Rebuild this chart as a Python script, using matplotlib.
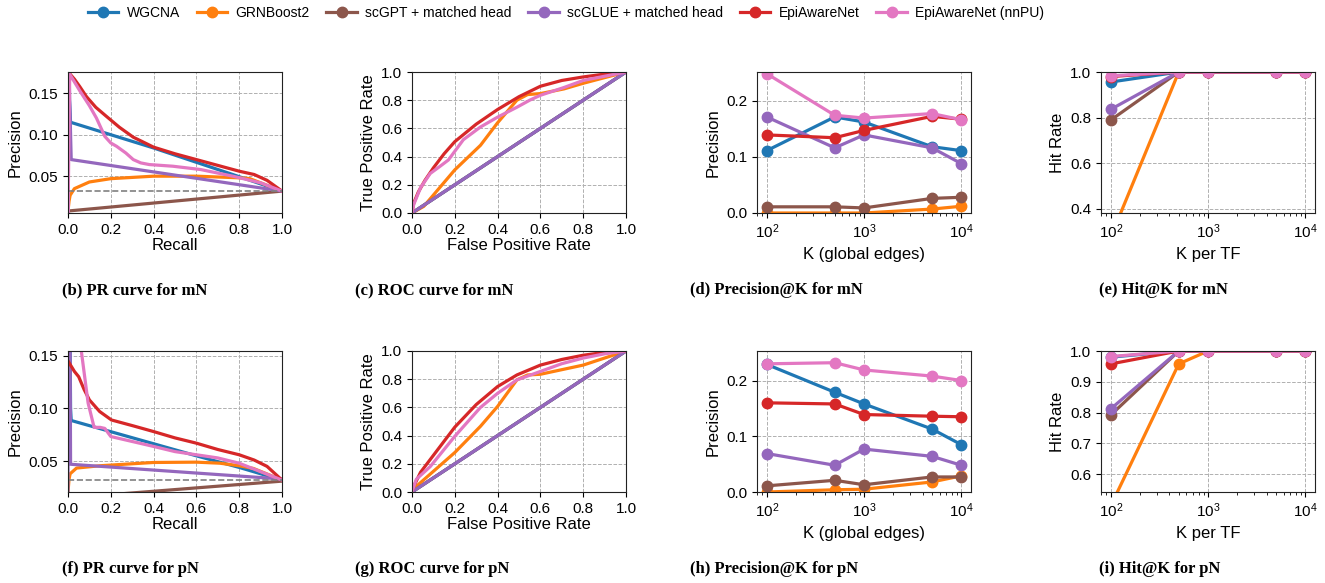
import numpy as np
import matplotlib
matplotlib.use("Agg")
from matplotlib import pyplot as plt

plt.rcParams['font.family'] = ['Liberation Sans', 'DejaVu Sans']

methods = ["WGCNA", "GRNBoost2", "scGPT + matched head", "scGLUE + matched head",
           "EpiAwareNet", "EpiAwareNet (nnPU)"]
colors = ["tab:blue", "tab:orange", "tab:brown", "tab:purple", "tab:red", "tab:pink"]

# ---- PR curves (recall, precision) ----
pr_mN = {
    "WGCNA": ([0.0, 0.012, 0.4, 0.77, 1.0], [0.175, 0.115, 0.084, 0.052, 0.032]),
    "GRNBoost2": ([0.0, 0.0, 0.005, 0.01, 0.03, 0.1, 0.2, 0.4, 0.6, 0.8, 0.85, 1.0],
                  [1.0, 0.008, 0.02, 0.027, 0.035, 0.043, 0.047, 0.050, 0.050, 0.048, 0.047, 0.032]),
    "scGPT + matched head": ([0.0, 1.0], [0.008, 0.032]),
    "scGLUE + matched head": ([0.005, 0.013, 0.015, 1.0], [0.176, 0.09, 0.07, 0.032]),
    "EpiAwareNet": ([0.0, 0.003, 0.03, 0.055, 0.086, 0.13, 0.18, 0.24, 0.305, 0.4, 0.5, 0.6, 0.7, 0.8, 0.87, 0.93, 1.0],
                    [1.0, 0.175, 0.167, 0.158, 0.146, 0.133, 0.122, 0.109, 0.097, 0.085, 0.077, 0.070, 0.063, 0.056, 0.052, 0.045, 0.032]),
    "EpiAwareNet (nnPU)": ([0.0, 0.0, 0.008, 0.055, 0.1, 0.133, 0.172, 0.2, 0.227, 0.27, 0.305, 0.34, 0.38, 0.49, 0.62, 0.77, 0.9, 1.0],
                           [1.0, 0.0, 0.173, 0.153, 0.135, 0.120, 0.098, 0.090, 0.086, 0.078, 0.070, 0.066, 0.064, 0.062, 0.058, 0.050, 0.042, 0.032]),
}
pr_pN = {
    "WGCNA": ([0.01, 0.012, 0.015, 0.6, 0.8, 1.0], [0.16, 0.10, 0.0885, 0.055, 0.044, 0.032]),
    "GRNBoost2": ([0.0, 0.005, 0.01, 0.04, 0.15, 0.4, 0.6, 0.71, 0.8, 0.867, 1.0],
                  [0.021, 0.033, 0.038, 0.0434, 0.0456, 0.0487, 0.049, 0.048, 0.0456, 0.043, 0.032]),
    "scGPT + matched head": ([0.0, 1.0], [0.015, 0.031]),
    "scGLUE + matched head": ([0.0, 0.0, 0.01, 0.012, 1.0], [0.02, 0.16, 0.16, 0.047, 0.033]),
    "EpiAwareNet": ([0.003, 0.015, 0.03, 0.05, 0.075, 0.1, 0.148, 0.203, 0.305, 0.4, 0.5, 0.6, 0.7, 0.8, 0.87, 0.93, 1.0],
                    [0.144, 0.140, 0.135, 0.130, 0.118, 0.108, 0.097, 0.089, 0.0834, 0.078, 0.072, 0.067, 0.061, 0.056, 0.051, 0.045, 0.032]),
    "EpiAwareNet (nnPU)": ([0.05, 0.0625, 0.094, 0.122, 0.15, 0.172, 0.2, 0.3, 0.4, 0.5, 0.6, 0.7, 0.8, 0.9, 1.0],
                           [0.19, 0.154, 0.105, 0.082, 0.082, 0.081, 0.0733, 0.0686, 0.0639, 0.059, 0.056, 0.053, 0.048, 0.040, 0.032]),
}
prevalence_mN = 0.0316
prevalence_pN = 0.0317

# ---- ROC curves (fpr, tpr) ----
roc_mN = {
    "WGCNA": ([0.0, 1.0], [0.0, 1.0]),
    "GRNBoost2": ([0.0, 0.055, 0.2, 0.32, 0.4, 0.49, 0.54, 0.6, 0.71, 0.8, 1.0],
                  [0.0, 0.047, 0.306, 0.48, 0.64, 0.80, 0.84, 0.847, 0.88, 0.92, 1.0]),
    "scGPT + matched head": ([0.0, 1.0], [0.0, 1.0]),
    "scGLUE + matched head": ([0.0, 1.0], [0.0, 1.0]),
    "EpiAwareNet": ([0.0, 0.008, 0.03, 0.06, 0.1, 0.15, 0.2, 0.3, 0.4, 0.5, 0.6, 0.7, 0.8, 0.9, 1.0],
                    [0.0, 0.07, 0.15, 0.23, 0.32, 0.42, 0.506, 0.63, 0.734, 0.825, 0.899, 0.94, 0.965, 0.985, 1.0]),
    "EpiAwareNet (nnPU)": ([0.0, 0.008, 0.04, 0.085, 0.13, 0.17, 0.24, 0.32, 0.4, 0.49, 0.55, 0.6, 0.71, 0.8, 1.0],
                           [0.0, 0.06, 0.18, 0.28, 0.33, 0.376, 0.52, 0.61, 0.68, 0.75, 0.80, 0.835, 0.89, 0.94, 1.0]),
}
roc_pN = {
    "WGCNA": ([0.0, 1.0], [0.0, 1.0]),
    "GRNBoost2": ([0.0, 0.02, 0.2, 0.32, 0.4, 0.49, 0.54, 0.6, 0.8, 1.0],
                  [0.0, 0.04, 0.28, 0.466, 0.607, 0.795, 0.83, 0.835, 0.90, 1.0]),
    "scGPT + matched head": ([0.0, 1.0], [0.0, 1.0]),
    "scGLUE + matched head": ([0.0, 1.0], [0.0, 1.0]),
    "EpiAwareNet": ([0.0, 0.008, 0.04, 0.085, 0.13, 0.2, 0.3, 0.4, 0.49, 0.6, 0.7, 0.8, 0.9, 1.0],
                    [0.0, 0.04, 0.14, 0.23, 0.32, 0.46, 0.62, 0.748, 0.83, 0.9, 0.94, 0.97, 0.99, 1.0]),
    "EpiAwareNet (nnPU)": ([0.0, 0.02, 0.085, 0.2, 0.32, 0.4, 0.49, 0.6, 0.7, 0.8, 0.9, 1.0],
                           [0.0, 0.09, 0.18, 0.395, 0.6, 0.70, 0.795, 0.855, 0.91, 0.95, 0.98, 1.0]),
}

# ---- Precision@K (global edges) ----
k_global = [100, 500, 1000, 5000, 10000]
prec_k_mN = {
    "WGCNA": [0.111, 0.171, 0.162, 0.118, 0.111],
    "GRNBoost2": [0.0, 0.0, 0.0, 0.007, 0.012],
    "scGPT + matched head": [0.011, 0.011, 0.009, 0.026, 0.028],
    "scGLUE + matched head": [0.171, 0.116, 0.139, 0.116, 0.088],
    "EpiAwareNet": [0.139, 0.134, 0.147, 0.172, 0.167],
    "EpiAwareNet (nnPU)": [0.248, 0.174, 0.169, 0.177, 0.166],
}
prec_k_pN = {
    "WGCNA": [0.229, 0.179, 0.158, 0.113, 0.085],
    "GRNBoost2": [0.0, 0.004, 0.005, 0.018, 0.029],
    "scGPT + matched head": [0.011, 0.021, 0.013, 0.027, 0.027],
    "scGLUE + matched head": [0.069, 0.048, 0.077, 0.064, 0.048],
    "EpiAwareNet": [0.160, 0.158, 0.139, 0.136, 0.135],
    "EpiAwareNet (nnPU)": [0.230, 0.232, 0.219, 0.208, 0.200],
}

# ---- Hit@K (per TF) ----
k_tf = [100, 500, 1000, 5000, 10000]
hit_k_mN = {
    "WGCNA": [0.956, 1.0, 1.0, 1.0, 1.0],
    "GRNBoost2": [0.275, 1.0, 1.0, 1.0, 1.0],
    "scGPT + matched head": [0.789, 1.0, 1.0, 1.0, 1.0],
    "scGLUE + matched head": [0.836, 1.0, 1.0, 1.0, 1.0],
    "EpiAwareNet": [0.98, 1.0, 1.0, 1.0, 1.0],
    "EpiAwareNet (nnPU)": [0.983, 1.0, 1.0, 1.0, 1.0],
}
hit_k_pN = {
    "WGCNA": [0.98, 1.0, 1.0, 1.0, 1.0],
    "GRNBoost2": [0.497, 0.958, 1.0, 1.0, 1.0],
    "scGPT + matched head": [0.792, 1.0, 1.0, 1.0, 1.0],
    "scGLUE + matched head": [0.812, 1.0, 1.0, 1.0, 1.0],
    "EpiAwareNet": [0.958, 1.0, 1.0, 1.0, 1.0],
    "EpiAwareNet (nnPU)": [0.982, 1.0, 1.0, 1.0, 1.0],
}

captions_top = ["(b) PR curve for mN", "(c) ROC curve for mN",
                "(d) Precision@K for mN", "(e) Hit@K for mN"]
captions_bot = ["(f) PR curve for pN", "(g) ROC curve for pN",
                "(h) Precision@K for pN", "(i) Hit@K for pN"]

W, H = 1325, 583
fig = plt.figure(figsize=(W / 100, H / 100), dpi=100)

lefts = [68, 412, 757, 1101]
aw = 214
rows = [(72, 213), (351, 492)]
unit_ticks = [0.0, 0.2, 0.4, 0.6, 0.8, 1.0]


def make_ax(col, row):
    top, bot = rows[row]
    return fig.add_axes([lefts[col] / W, 1 - bot / H, aw / W, (bot - top) / H])


def style(ax):
    ax.grid(True, linestyle='--', color='#b0b0b0', linewidth=0.7)
    ax.tick_params(labelsize=11)
    for s in ax.spines.values():
        s.set_color('#222222')


LW = 2.3


def pr_panel(ax, data, prev, ylim):
    for m, c in zip(methods, colors):
        x, y = data[m]
        ax.plot(x, y, color=c, lw=LW)
    ax.axhline(prev, color='gray', ls='--', lw=1.2)
    ax.set_xlim(0, 1)
    ax.set_ylim(*ylim)
    ax.set_xticks(unit_ticks)
    ax.set_yticks([0.05, 0.10, 0.15])
    ax.set_xlabel("Recall", fontsize=12, labelpad=1)
    ax.set_ylabel("Precision", fontsize=12)
    style(ax)


def roc_panel(ax, data):
    for m, c in zip(methods, colors):
        x, y = data[m]
        ax.plot(x, y, color=c, lw=LW)
    ax.set_xlim(0, 1)
    ax.set_ylim(0, 1)
    ax.set_xticks(unit_ticks)
    ax.set_yticks(unit_ticks)
    ax.set_xlabel("False Positive Rate", fontsize=12, labelpad=1)
    ax.set_ylabel("True Positive Rate", fontsize=12)
    style(ax)


def k_panel(ax, ks, data, ylim, yticks, xlabel, ylabel):
    for m, c in zip(methods, colors):
        ax.plot(ks, data[m], color=c, lw=LW, marker='o', ms=7.5, label=m)
    ax.set_xscale('log')
    ax.set_xlim(79.4, 12589)
    ax.set_ylim(*ylim)
    ax.set_yticks(yticks)
    ax.set_xlabel(xlabel, fontsize=12)
    ax.set_ylabel(ylabel, fontsize=12)
    style(ax)


ax = make_ax(0, 0)
pr_panel(ax, pr_mN, prevalence_mN, (0.0056, 0.1756))
ax = make_ax(1, 0)
roc_panel(ax, roc_mN)
ax = make_ax(2, 0)
k_panel(ax, k_global, prec_k_mN, (0, 0.251), [0.0, 0.1, 0.2], "K (global edges)", "Precision")
ax = make_ax(3, 0)
k_panel(ax, k_tf, hit_k_mN, (0.381, 1.0), [0.4, 0.6, 0.8, 1.0], "K per TF", "Hit Rate")

ax = make_ax(0, 1)
pr_panel(ax, pr_pN, prevalence_pN, (0.0207, 0.1544))
ax = make_ax(1, 1)
roc_panel(ax, roc_pN)
ax = make_ax(2, 1)
k_panel(ax, k_global, prec_k_pN, (0, 0.253), [0.0, 0.1, 0.2], "K (global edges)", "Precision")
ax = make_ax(3, 1)
k_panel(ax, k_tf, hit_k_pN, (0.542, 1.0), [0.6, 0.7, 0.8, 0.9, 1.0], "K per TF", "Hit Rate")

# panel captions (left aligned under each subfigure)
cap_x = [62, 355, 690, 1099]
for cx, t in zip(cap_x, captions_top):
    fig.text(cx / W, 1 - 290 / H, t, ha='left', va='center', fontsize=12,
             fontweight='bold', family=['Liberation Serif', 'DejaVu Serif'])
for cx, t in zip(cap_x, captions_bot):
    fig.text(cx / W, 1 - 569 / H, t, ha='left', va='center', fontsize=12,
             fontweight='bold', family=['Liberation Serif', 'DejaVu Serif'])

handles, labels = ax.get_legend_handles_labels()
fig.legend(handles, labels, loc='center', bbox_to_anchor=(566 / W, 1 - 13 / H), ncol=6,
           frameon=False, fontsize=10, handlelength=2.2, handletextpad=0.6, columnspacing=1.2)

fig.savefig("out.png", dpi=100)
